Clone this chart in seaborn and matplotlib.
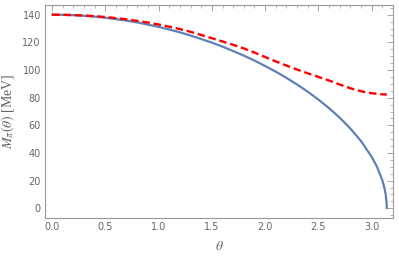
import numpy as np
import pandas as pd
import seaborn as sns
import matplotlib.pyplot as plt
from matplotlib.ticker import MultipleLocator

# values
theta_blue = [0.0, 0.1, 0.2, 0.3, 0.4, 0.5, 0.6, 0.7, 0.8, 0.9, 1.0, 1.1, 1.2, 1.3,
              1.4, 1.5, 1.6, 1.7, 1.8, 1.9, 2.0, 2.1, 2.2, 2.3, 2.4, 2.5, 2.6, 2.7,
              2.8, 2.9, 3.0, 3.05, 3.1, 3.12, 3.13, 3.14, 3.1416]
m_blue = [140.0, 139.9, 139.65, 139.2, 138.6, 137.8, 136.8, 135.7, 134.4, 132.8, 131.2,
          129.3, 127.2, 124.9, 122.4, 119.8, 116.9, 113.7, 110.4, 106.8, 102.9, 98.8,
          94.3, 89.5, 84.3, 78.6, 72.4, 65.5, 57.7, 48.6, 37.2, 30.0, 20.2, 14.5, 10.7,
          3.9, 0.0]

theta_red = [0.0, 0.1, 0.2, 0.3, 0.4, 0.5, 0.6, 0.7, 0.8, 0.9, 1.0, 1.1, 1.2, 1.3,
             1.4, 1.5, 1.6, 1.7, 1.8, 1.9, 2.0, 2.1, 2.2, 2.3, 2.4, 2.5, 2.6, 2.7,
             2.8, 2.9, 3.0, 3.1, 3.1416]
m_red = [140.0, 139.9, 139.7, 139.4, 138.9, 138.3, 137.5, 136.6, 135.5, 134.3, 132.9,
         131.3, 129.6, 127.6, 125.3, 123.0, 120.6, 118.2, 115.6, 112.6, 109.4, 106.2,
         103.2, 100.3, 97.6, 95.0, 92.4, 89.5, 86.8, 84.6, 83.2, 82.4, 82.3]

blue = pd.DataFrame({'theta': theta_blue, 'M': m_blue})
red = pd.DataFrame({'theta': theta_red, 'M': m_red})

sns.set_style('white')
plt.rcParams['mathtext.fontset'] = 'stix'
plt.rcParams['font.family'] = ['DejaVu Sans']

fig = plt.figure(figsize=(3.99, 2.60), dpi=100)
ax = fig.add_axes([0.1128, 0.1615, 0.8722, 0.8193])

sns.lineplot(data=blue, x='theta', y='M', ax=ax, color='#5E81B5', lw=1.6, sort=False)
sns.lineplot(data=red, x='theta', y='M', ax=ax, color='#FF0000', lw=1.7,
             linestyle=(0, (3.2, 1.6)), sort=False)

ax.set_xlim(-0.066, 3.2)
ax.set_ylim(-7, 147)
ax.xaxis.set_major_locator(MultipleLocator(0.5))
ax.xaxis.set_minor_locator(MultipleLocator(0.1))
ax.yaxis.set_major_locator(MultipleLocator(20))
ax.yaxis.set_minor_locator(MultipleLocator(5))
ax.xaxis.set_major_formatter(plt.FormatStrFormatter('%.1f'))

ax.tick_params(which='both', direction='in', top=True, right=True, color='#999999',
               labelcolor='#666666', labelsize=7, pad=3)
ax.tick_params(which='major', length=4, width=0.6)
ax.tick_params(which='minor', length=2, width=0.5)
ax.tick_params(top=True, right=True, labeltop=False, labelright=False)
for s in ax.spines.values():
    s.set_color('#999999')
    s.set_linewidth(0.8)

ax.set_xlabel(r'$\theta$', fontsize=10, color='#666666', labelpad=5)
ax.set_ylabel(r'$M_\pi(\theta)$ [MeV]', fontsize=10, color='#666666',
              family='Liberation Serif', labelpad=4)

plt.savefig('out.png', dpi=100)
